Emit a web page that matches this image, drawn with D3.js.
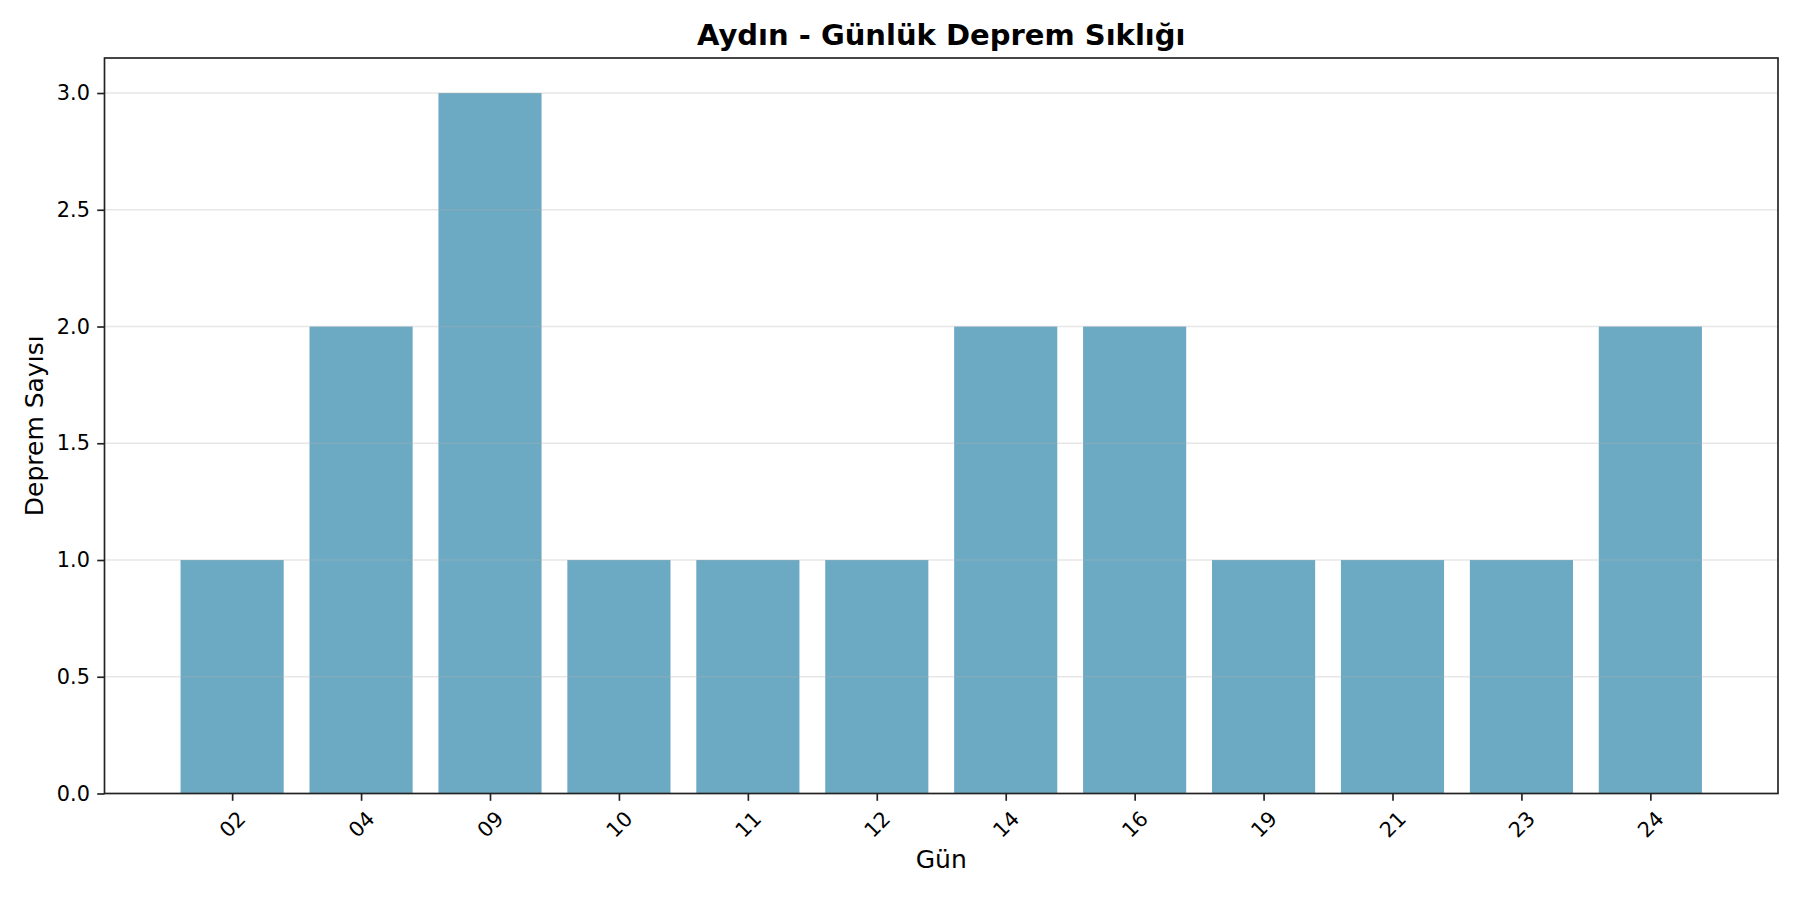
<!DOCTYPE html>
<html>
<head>
<meta charset="utf-8">
<script src="https://cdn.jsdelivr.net/npm/d3@7"></script>
<style>
  body { margin: 0; background: #fff; }
  text { font-family: "DejaVu Sans", sans-serif; fill: #000; }
</style>
</head>
<body>
<script>
// days and earthquake counts
const days = ["02", "04", "09", "10", "11", "12", "14", "16", "19", "21", "23", "24"];
const counts = [1, 2, 3, 1, 1, 1, 2, 2, 1, 1, 1, 2];
const yTicks = [0, 0.5, 1.0, 1.5, 2.0, 2.5, 3.0];

const W = 1800, H = 900;
const margin = {top: 58, right: 22, bottom: 106.5, left: 104.5},
    width = W - margin.left - margin.right,
    height = H - margin.top - margin.bottom;

const svg = d3.select("body")
    .append("svg")
    .attr("width", W)
    .attr("height", H);

const g = svg.append("g")
    .attr("transform", `translate(${margin.left}, ${margin.top})`);

// bars of width 0.8 at integer positions, 5% margins like matplotlib
const barW = 0.8;
const lo = -barW / 2, hi = days.length - 1 + barW / 2;
const pad = (hi - lo) * 0.05;
const x = d3.scaleLinear()
    .domain([lo - pad, hi + pad])
    .range([0, width]);

const y = d3.scaleLinear()
    .domain([0, d3.max(counts) * 1.05])
    .range([height, 0]);

// bars
g.selectAll("rect.bar")
    .data(counts)
    .enter()
    .append("rect")
    .attr("class", "bar")
    .attr("x", (d, i) => x(i - barW / 2))
    .attr("width", x(barW) - x(0))
    .attr("y", d => y(d))
    .attr("height", d => height - y(d))
    .attr("fill", "#2E86AB")
    .attr("fill-opacity", 0.7);

// horizontal grid (drawn over bars)
g.selectAll("line.grid")
    .data(yTicks)
    .enter()
    .append("line")
    .attr("class", "grid")
    .attr("x1", 0)
    .attr("x2", width)
    .attr("y1", d => y(d))
    .attr("y2", d => y(d))
    .attr("stroke", "#b0b0b0")
    .attr("stroke-opacity", 0.3)
    .attr("stroke-width", 1.67);

// Y axis
const yAxis = g.append("g")
    .call(d3.axisLeft(y).tickValues(yTicks).tickFormat(d3.format(".1f"))
        .tickSize(7.3).tickPadding(7.3));
yAxis.select(".domain").remove();
yAxis.selectAll(".tick line").attr("stroke", "#222").attr("stroke-width", 1.67);
yAxis.selectAll(".tick text").style("font-size", "20.8px").attr("fill", "#000");

// X axis
const xAxis = g.append("g")
    .attr("transform", `translate(0, ${height})`)
    .call(d3.axisBottom(x).tickValues(d3.range(days.length)).tickFormat(i => days[i])
        .tickSize(7.3).tickPadding(0));
xAxis.select(".domain").remove();
xAxis.selectAll(".tick line").attr("stroke", "#222").attr("stroke-width", 1.67);
xAxis.selectAll(".tick text")
    .style("font-size", "20.8px")
    .attr("fill", "#000")
    .attr("text-anchor", "middle")
    .attr("dominant-baseline", "central")
    .attr("dy", null)
    .attr("y", 31)
    .attr("transform", "rotate(-45, 0, 31)");

// frame
g.append("rect")
    .attr("x", 0).attr("y", 0)
    .attr("width", width).attr("height", height)
    .attr("fill", "none")
    .attr("stroke", "#222")
    .attr("stroke-width", 1.67);

// title and labels
svg.append("text")
    .attr("x", margin.left + width / 2)
    .attr("y", 45)
    .attr("text-anchor", "middle")
    .style("font-size", "29px")
    .style("font-weight", "bold")
    .text("Aydın - Günlük Deprem Sıklığı");

svg.append("text")
    .attr("x", margin.left + width / 2)
    .attr("y", 868)
    .attr("text-anchor", "middle")
    .style("font-size", "25px")
    .text("Gün");

svg.append("text")
    .attr("transform", `translate(34, ${margin.top + height / 2}) rotate(-90)`)
    .attr("text-anchor", "middle")
    .attr("dominant-baseline", "central")
    .style("font-size", "25px")
    .text("Deprem Sayısı");
</script>
</body>
</html>
